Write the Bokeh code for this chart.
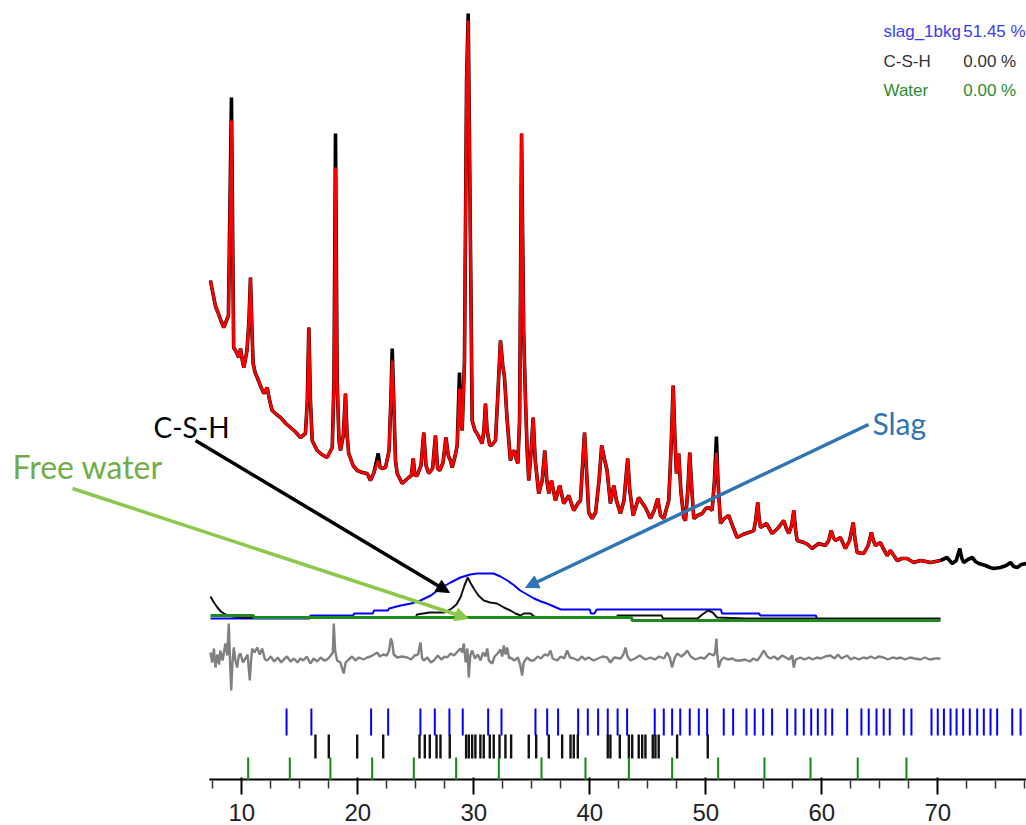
from bokeh.plotting import figure
from bokeh.models import Label, Arrow, NormalHead, FixedTicker, Range1d
from bokeh.embed import file_html
from bokeh.resources import INLINE

# ---------------- data ----------------
obs_two_theta = [7.30, 7.50, 7.74, 7.95, 8.20, 8.45, 8.85, 9.11, 9.30, 9.55, 9.74, 9.89, 10.05, 10.18,
                 10.45, 10.62, 10.75, 10.88, 10.98, 11.15, 11.33, 11.60, 11.90, 12.05, 12.19, 12.40, 12.62,
                 13.00, 13.34, 13.80, 14.20, 14.60, 15.06, 15.49, 15.65, 15.78, 15.92, 16.07, 16.50, 16.90,
                 17.36, 17.80, 17.95, 18.08, 18.22, 18.38, 18.51, 18.75, 18.94, 19.08, 19.22, 19.60, 19.95,
                 20.40, 20.81, 21.09, 21.40, 21.76, 21.92, 22.10, 22.39, 22.70, 22.85, 22.97, 23.10, 23.25,
                 23.40, 23.83, 24.10, 24.40, 24.62, 24.78, 24.92, 25.12, 25.45, 25.69, 25.88, 26.12, 26.45,
                 26.70, 26.88, 27.07, 27.35, 27.60, 27.80, 27.99, 28.14, 28.40, 28.57, 28.77, 28.90, 29.00,
                 29.20, 29.38, 29.52, 29.66, 29.86, 30.10, 30.29, 30.50, 30.72, 30.87, 31.01, 31.15, 31.38,
                 31.60, 31.87, 32.05, 32.30, 32.50, 32.65, 32.88, 33.16, 33.33, 33.51, 33.65, 33.80, 33.95,
                 34.12, 34.30, 34.46, 34.60, 34.74, 34.95, 35.12, 35.30, 35.60, 35.90, 36.12, 36.30, 36.47,
                 36.70, 37.04, 37.41, 37.76, 38.19, 38.62, 38.97, 39.20, 39.40, 39.55, 39.72, 39.91, 40.20,
                 40.50, 40.80, 41.03, 41.20, 41.49, 41.78, 42.07, 42.30, 42.64, 42.95, 43.10, 43.27, 43.45,
                 43.74, 44.22, 44.50, 44.80, 45.23, 45.55, 45.86, 46.10, 46.38, 46.81, 47.00, 47.19, 47.35,
                 47.47, 47.67, 47.85, 48.10, 48.25, 48.45, 48.62, 48.80, 48.97, 49.30, 49.69, 50.00, 50.25,
                 50.55, 50.75, 50.92, 51.05, 51.27, 51.60, 51.98, 52.30, 52.70, 53.20, 53.70, 54.14, 54.30,
                 54.48, 54.60, 54.72, 55.23, 55.72, 56.20, 56.72, 56.95, 57.16, 57.40, 57.59, 57.75, 57.88,
                 58.45, 58.80, 59.17, 59.74, 60.32, 60.60, 60.81, 61.00, 61.18, 61.61, 62.04, 62.40, 62.71,
                 62.88, 63.05, 63.62, 64.00, 64.28, 64.45, 64.63, 65.06, 65.30, 65.64, 65.92, 66.50, 66.90,
                 67.36, 67.93, 68.50, 69.00, 69.37, 69.80, 70.23, 70.80, 71.24, 71.60, 71.90, 72.08, 72.24,
                 72.60, 72.97, 73.25, 73.54, 74.11, 74.50, 74.83, 75.41, 75.90, 76.27, 76.55, 76.85, 77.20,
                 77.65]
obs_counts = [500, 488, 474, 468, 460, 453, 465, 683, 433, 428, 423, 432, 420, 413,
              430, 460, 503, 450, 417, 408, 403, 395, 387, 390, 393, 380, 370,
              366, 363, 357, 353, 349, 343, 347, 380, 453, 380, 340, 330, 326,
              323, 333, 400, 647, 400, 340, 330, 345, 387, 345, 327, 315, 310,
              308, 307, 300, 308, 327, 313, 312, 313, 330, 380, 432, 380, 320,
              307, 297, 300, 303, 305, 322, 305, 305, 315, 348, 315, 307, 312,
              345, 312, 310, 318, 343, 325, 320, 313, 325, 335, 408, 360, 350,
              420, 700, 767, 600, 360, 350, 347, 342, 337, 350, 377, 350, 335,
              336, 340, 380, 440, 415, 403, 360, 320, 328, 330, 322, 317, 360,
              647, 450, 380, 330, 300, 330, 363, 320, 287, 300, 330, 300, 287,
              300, 280, 295, 277, 285, 270, 277, 280, 320, 348, 310, 268, 262,
              268, 300, 335, 325, 310, 277, 295, 280, 267, 280, 300, 322, 290,
              265, 283, 278, 273, 262, 270, 282, 265, 262, 280, 330, 395, 340,
              307, 327, 290, 263, 260, 290, 328, 290, 262, 265, 267, 272, 273,
              270, 300, 344, 300, 257, 262, 265, 255, 243, 246, 248, 250, 260,
              278, 262, 253, 257, 247, 252, 260, 252, 247, 255, 270, 250, 240,
              238, 236, 232, 237, 235, 240, 250, 243, 240, 243, 232, 240, 258,
              240, 228, 227, 235, 248, 240, 235, 238, 232, 225, 230, 220, 222,
              222, 218, 220, 219, 218, 219, 220, 223, 217, 220, 232, 222, 218,
              221, 223, 219, 217, 215, 213, 212, 213, 215, 218, 214, 213, 216,
              217]

calc_end = 70.23
calc_peak_tops = {9.11: 660, 18.08: 613, 22.97: 420, 28.77: 392, 29.52: 760, 50.92: 328, 21.76: 320}

diff_two_theta = [7.30, 7.45, 7.60, 7.73, 7.90, 8.05, 8.16, 8.35, 8.59, 8.75, 8.88, 9.00, 9.09, 9.20, 9.31,
                  9.45, 9.60, 9.75, 9.89, 10.10, 10.32, 10.50, 10.69, 10.80, 10.90, 11.10, 11.33, 11.55,
                  11.76, 12.00, 12.19, 12.50, 12.80, 13.10, 13.40, 13.62, 13.90, 14.20, 14.50, 14.80, 15.06,
                  15.30, 15.60, 15.92, 16.20, 16.50, 16.80, 17.10, 17.36, 17.60, 17.85, 17.93, 18.05, 18.22,
                  18.50, 18.79, 18.95, 19.22, 19.50, 19.80, 20.10, 20.50, 20.81, 21.10, 21.40, 21.67, 21.90,
                  22.20, 22.50, 22.70, 22.85, 22.97, 23.10, 23.40, 23.80, 24.26, 24.60, 24.90, 25.20, 25.40,
                  25.55, 25.69, 26.00, 26.30, 26.55, 26.90, 27.20, 27.50, 27.71, 28.00, 28.30, 28.60, 28.85,
                  29.00, 29.14, 29.30, 29.45, 29.57, 29.70, 29.86, 30.10, 30.35, 30.58, 30.80, 31.00, 31.16,
                  31.30, 31.59, 31.80, 32.05, 32.30, 32.45, 32.59, 32.75, 32.88, 33.05, 33.16, 33.50, 33.80,
                  34.00, 34.17, 34.30, 34.60, 34.90, 35.17, 35.50, 35.80, 36.10, 36.40, 36.61, 36.80, 37.19,
                  37.50, 37.80, 38.05, 38.30, 38.62, 39.00, 39.30, 39.60, 39.90, 40.34, 40.70, 41.10, 41.50,
                  41.78, 42.10, 42.65, 42.90, 43.08, 43.25, 43.51, 43.90, 44.30, 44.80, 45.23, 45.60, 46.00,
                  46.40, 46.67, 46.90, 47.10, 47.30, 47.53, 47.90, 48.20, 48.40, 48.70, 49.10, 49.54, 49.90,
                  50.30, 50.69, 50.80, 50.92, 51.00, 51.12, 51.30, 51.55, 51.90, 52.30, 52.60, 52.99, 53.40,
                  53.80, 54.10, 54.43, 54.70, 55.00, 55.30, 55.58, 55.90, 56.20, 56.59, 56.90, 57.20, 57.45,
                  57.59, 57.75, 58.16, 58.50, 58.90, 59.20, 59.60, 59.90, 60.30, 60.75, 61.10, 61.40, 61.70,
                  62.19, 62.50, 62.80, 63.20, 63.60, 63.91, 64.20, 64.60, 64.90, 65.34, 65.70, 66.10, 66.50,
                  66.78, 67.20, 67.60, 68.00, 68.50, 68.90, 69.30, 69.80, 70.23]
diff_counts = [128, 118, 132, 113, 126, 116, 130, 120, 137, 125, 157, 115, 90, 118, 133,
               120, 113, 125, 127, 118, 122, 126, 100, 120, 132, 128, 133, 126,
               132, 121, 120, 124, 119, 123, 118, 121, 124, 119, 122, 118, 122,
               120, 124, 117, 122, 119, 123, 120, 121, 124, 128, 157, 130, 120,
               118, 107, 118, 121, 124, 120, 123, 121, 123, 124, 126, 128, 124,
               126, 125, 130, 142, 138, 126, 123, 124, 123, 121, 125, 126, 138,
               122, 120, 123, 118, 120, 125, 121, 124, 123, 127, 125, 129, 132,
               128, 137, 118, 132, 103, 125, 130, 122, 126, 120, 128, 124, 132,
               120, 117, 124, 127, 131, 124, 135, 126, 133, 122, 123, 120, 123,
               116, 105, 118, 123, 120, 120, 124, 122, 126, 125, 130, 122, 120,
               124, 122, 130, 123, 122, 120, 124, 121, 123, 120, 122, 124, 123,
               118, 123, 122, 126, 133, 124, 120, 122, 125, 121, 123, 121, 124,
               122, 128, 123, 113, 122, 127, 124, 127, 130, 124, 121, 123, 122,
               127, 125, 128, 142, 125, 113, 120, 123, 121, 122, 120, 120, 121,
               119, 122, 120, 124, 130, 124, 122, 124, 121, 125, 123, 121, 125,
               113, 121, 123, 121, 123, 121, 123, 122, 124, 125, 122, 126, 122,
               125, 121, 123, 121, 123, 122, 124, 122, 124, 123, 121, 123, 122,
               123, 121, 123, 122, 121, 123, 121, 122, 122]

slag_two_theta = [7.30, 15.85, 15.92, 19.60, 19.70, 21.30, 21.40, 22.60, 22.70, 23.70, 24.60, 25.40, 26.30,
                  27.10, 28.00, 28.85, 29.70, 30.30, 31.70, 32.30, 32.90, 33.50, 34.00, 34.60, 35.20, 35.80,
                  36.30, 36.90, 37.50, 40.00, 40.10, 40.40, 40.60, 51.30, 51.40, 54.60, 54.70, 59.50, 59.60,
                  70.23]
slag_counts = [162, 162, 165, 165, 167, 167, 170, 170, 172, 175, 177, 180, 185,
               192, 198, 203, 206, 207, 207, 204, 200, 195, 190, 186, 182, 179,
               177, 174, 171, 171, 167, 167, 171, 171, 167, 167, 165, 165, 161,
               161]

csh_two_theta = [7.30, 7.60, 7.90, 8.20, 8.60, 9.20, 10.00, 25.00, 25.10, 26.20, 27.50, 28.10, 28.50, 28.85,
                 29.20, 29.48, 29.70, 30.00, 30.40, 30.86, 31.40, 32.00, 32.60, 33.16, 33.60, 34.03, 34.30,
                 34.90, 35.20, 35.50, 42.30, 42.40, 46.20, 46.30, 49.30, 49.70, 50.20, 50.60, 50.97, 53.40,
                 70.23]
csh_counts = [184, 178, 173, 169, 166, 164, 163, 163, 166, 168, 168, 172, 176, 183,
              195, 203, 198, 192, 185, 180, 178, 177, 173, 170, 167, 165, 167,
              167, 164, 163, 163, 165, 165, 162, 162, 166, 170, 168, 163, 162,
              162]

water_two_theta = [7.30, 11.00, 11.05, 43.60, 43.65, 70.23]
water_counts = [165, 165, 163, 163, 160, 160]

slag_reflections = [13.86, 16.00, 21.15, 22.62, 25.40, 26.64, 27.90, 29.05, 31.24, 32.39, 35.32, 36.33, 37.27,
                    39.00, 39.83, 40.72, 41.55, 42.40, 43.22, 45.60, 46.38, 47.10, 47.80, 48.62, 49.40, 50.12,
                    51.55, 52.36, 53.51, 54.22, 54.95, 55.72, 57.02, 57.73, 58.45, 59.09, 59.66, 60.32, 60.90,
                    62.19, 63.42, 64.05, 64.72, 65.34, 65.86, 67.07, 67.73, 69.46, 70.00, 70.53, 71.10, 71.62,
                    72.19, 72.76, 73.40, 73.97, 74.55, 75.12, 76.42, 77.14]
csh_reflections = [16.35, 17.50, 19.95, 22.19, 25.32, 25.78, 26.21, 26.79, 27.13, 27.93, 29.34, 29.57, 29.86,
                   30.14, 30.57, 30.86, 31.38, 31.72, 32.22, 32.73, 33.22, 34.74, 35.38, 36.47, 37.62, 38.34,
                   38.62, 38.97, 41.55, 41.78, 42.59, 43.37, 43.66, 44.22, 44.52, 44.80, 45.43, 45.66, 45.94,
                   47.53, 50.17]
water_reflections = [10.55, 14.14, 17.64, 21.24, 24.83, 28.48, 32.16, 35.84, 39.63, 43.37, 47.10, 51.07,
                     55.06, 59.03, 63.10, 67.30]

tick_values = [10, 20, 30, 40, 50, 60, 70]
tick_labels = ["10", "20", "30", "40", "50", "60", "70"]
minor_tick_values = [7.5, 12.5, 15, 17.5, 22.5, 25, 27.5, 32.5, 35, 37.5, 42.5, 45, 47.5,
                     52.5, 55, 57.5, 62.5, 65, 67.5, 72.5, 75, 77.5]

legend_names = ["slag_1bkg", "C-S-H", "Water"]
legend_values = ["51.45 %", "0.00 %", "0.00 %"]
legend_colors = ["#3b3bf2", "#333333", "#2e8b2e"]

# ---------------- figure ----------------
x_start, x_end = -10.80, 77.65
p = figure(frame_width=1026, frame_height=780,
           x_range=Range1d(x_start, x_end), y_range=Range1d(0, 780),
           output_backend="svg", toolbar_location=None, y_axis_location=None,
           min_border_left=0, min_border_right=0, min_border_top=0, min_border_bottom=45)
p.outline_line_color = None
p.grid.visible = False
p.background_fill_color = "white"
p.border_fill_color = "white"

ax = p.xaxis[0]
ax.ticker = FixedTicker(ticks=tick_values, minor_ticks=minor_tick_values)
ax.major_label_overrides = {v: s for v, s in zip(tick_values, tick_labels)}
ax.axis_line_color = None
ax.major_tick_line_color = "black"
ax.major_tick_line_width = 2
ax.major_tick_in = 3
ax.major_tick_out = 14
ax.minor_tick_line_color = "#333333"
ax.minor_tick_line_width = 1.5
ax.minor_tick_in = 0
ax.minor_tick_out = 8
ax.major_label_text_font = "Liberation Sans"
ax.major_label_text_font_size = "24px"
ax.major_label_text_color = "#222222"
ax.major_label_standoff = 9

# axis line (starts where the scan starts)
p.segment(x0=[obs_two_theta[0] - 0.1], y0=[0], x1=[x_end], y1=[0], line_color="black", line_width=4)

# observed and calculated patterns
p.line(obs_two_theta, obs_counts, line_color="black", line_width=3.6)
calc_x = [x for x in obs_two_theta if x <= calc_end]
calc_y = [calc_peak_tops.get(x, y) for x, y in zip(obs_two_theta, obs_counts) if x <= calc_end]
p.line(calc_x, calc_y, line_color="#ff0000", line_width=2.8)

# phase contributions
p.line(slag_two_theta, slag_counts, line_color="#0000ff", line_width=2)
p.line(csh_two_theta, csh_counts, line_color="#111111", line_width=2)
p.line(water_two_theta, water_counts, line_color="#1f8a1f", line_width=3)

# difference curve
p.line(diff_two_theta, diff_counts, line_color="#808080", line_width=2.4)

# reflection markers
rows = [(slag_reflections, 45, 72, "#0000ff", 2),
        (csh_reflections, 22, 46, "#111111", 2.4),
        (water_reflections, 0, 23, "#118811", 2)]
for refl, lo, hi, col, w in rows:
    p.segment(x0=refl, y0=[lo] * len(refl), x1=refl, y1=[hi] * len(refl),
              line_color=col, line_width=w)

# annotations
ann_font = "Lato"
p.add_layout(Arrow(end=NormalHead(size=13, fill_color="black", line_color="black"),
                   x_start=6.01, y_start=340, x_end=27.9, y_end=188,
                   line_color="black", line_width=3.5))
p.add_layout(Arrow(end=NormalHead(size=13, fill_color="#8cc84b", line_color="#8cc84b"),
                   x_start=-4.59, y_start=292, x_end=29.53, y_end=162,
                   line_color="#8cc84b", line_width=3.5))
p.add_layout(Arrow(end=NormalHead(size=13, fill_color="#2e75b6", line_color="#2e75b6"),
                   x_start=64.03, y_start=356, x_end=34.46, y_end=193,
                   line_color="#2e75b6", line_width=3.5))

p.add_layout(Label(x=2.39, y=354, text="C-S-H", text_font=ann_font, text_font_size="28px",
                   text_color="black", text_baseline="alphabetic"))
p.add_layout(Label(x=-9.77, y=314, text="Free water", text_font=ann_font, text_font_size="32px",
                   text_color="#70ad47", text_baseline="alphabetic"))
p.add_layout(Label(x=64.37, y=358, text="Slag", text_font=ann_font, text_font_size="30px",
                   text_color="#2e75b6", text_baseline="alphabetic"))

for i, (nm, val, col) in enumerate(zip(legend_names, legend_values, legend_colors)):
    yy = 749 - i * 29.5
    p.add_layout(Label(x=65.32, y=yy, text=nm, text_font="Liberation Sans", text_font_size="17px",
                       text_color=col, text_baseline="alphabetic"))
    p.add_layout(Label(x=72.20, y=yy, text=val, text_font="Liberation Sans", text_font_size="17px",
                       text_color=col, text_baseline="alphabetic"))

open("out.html", "w").write(file_html(p, INLINE))
